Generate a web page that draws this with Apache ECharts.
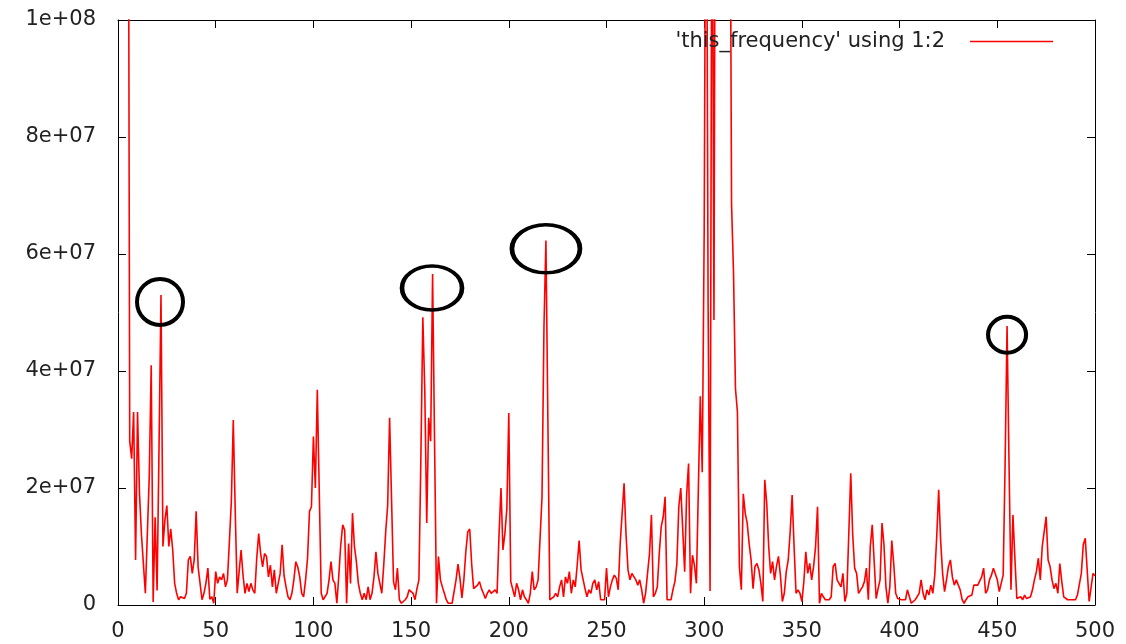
<!DOCTYPE html>
<html>
<head>
<meta charset="utf-8">
<title>this_frequency</title>
<script src="https://cdn.jsdelivr.net/npm/echarts@6/dist/echarts.min.js"></script>
<style>
  html, body { margin: 0; padding: 0; background: #fff; }
  #main { width: 1126px; height: 644px; }
</style>
</head>
<body>
<div id="main"></div>
<script>
// amplitude per frequency bin, in units of 1e6 (bins 1..500)
const firstBin = 1
const amplitude = [
  420, 360, 300, 240, 180, 28, 25, 33, 7.7, 33,
  19, 12, 7, 2, 12, 22, 41, 0.5, 15, 2.5,
  27, 53, 10, 14.5, 17, 10, 13, 9.4, 3.7, 2,
  0.9, 1.4, 1.2, 1.1, 2, 7.7, 8.3, 5.4, 7.7, 16,
  6.5, 3.7, 0.9, 2, 3.7, 6.3, 1, 1.4, 0.3, 5.7,
  3.7, 4.8, 4.3, 5.4, 3.1, 4.3, 10.8, 17.7, 31.6, 16,
  2, 5.7, 9.4, 5, 2, 3.7, 2.3, 3.7, 2.6, 2,
  8, 12.2, 8.8, 6.5, 8.8, 8.3, 4.8, 6.8, 3.1, 6,
  2, 2, 5.4, 10.3, 5, 3.1, 1.4, 0.9, 2, 4.3,
  7.4, 6.5, 4.8, 2, 1.4, 4.3, 8, 16, 16.8, 28.8,
  20, 36.8, 19.4, 2, 0.9, 0.9, 2, 4.3, 7.4, 4.3,
  3.7, 0.3, 5, 10.3, 13.7, 12.8, 0.3, 10.5, 3.7, 15.7,
  10, 7.4, 3.7, 2, 0.9, 2, 0.9, 3.1, 0.9, 2,
  4.8, 9.1, 5.4, 3.7, 2, 6.8, 12.5, 17, 32, 18,
  4, 2.6, 6.3, 0.9, 0.3, 0.3, 0.9, 1.4, 2.6, 2.8,
  2, 0.9, 2.8, 4.3, 25, 49.2, 36.7, 14, 32, 28,
  56.6, 28, 0.3, 8.3, 4.3, 3.1, 2, 0.9, 0.3, 0.6,
  0.3, 0.3, 4.3, 7, 4.6, 1.2, 4.3, 9.1, 12.5, 13,
  7, 2.8, 2.6, 3.4, 4, 2.8, 2, 1.1, 2, 2.6,
  2, 2, 2.6, 2, 12, 20, 9.4, 12.2, 16.5, 32.8,
  4, 4, 1.4, 3.7, 2.6, 0.9, 2.6, 1.4, 0.9, 0.3,
  2, 5.7, 2.6, 3.1, 4.3, 4.6, 18.5, 47.6, 62.3, 31.6,
  0.9, 0.9, 1.4, 2, 1.4, 3.1, 4.3, 1.4, 4.8, 3.7,
  5.7, 2, 4.3, 3.1, 6.8, 11, 6, 5.7, 2.8, 1.4,
  2.6, 2, 3.7, 4.3, 2.6, 4, 0.9, 1.1, 0.9, 6.3,
  1.4, 3.1, 4.3, 5.1, 4.6, 2.6, 10.5, 10.5, 20.8, 12,
  6, 4.3, 5.4, 5.7, 4.3, 3.4, 4.3, 2.6, 0.3, 2,
  2.3, 8.8, 15.4, 1.4, 2, 3.1, 8.8, 13.4, 15, 18.5,
  0.9, 0.6, 0.9, 2.6, 4, 7, 16.8, 20, 13, 5.7,
  18.8, 24.2, 2, 8.5, 6.8, 3.7, 19.7, 35.7, 22.7, 64,
  150, 51.4, 2.4, 140, 48.7, 180, 240, 300, 280, 250,
  220, 190, 150, 68.5, 56.8, 37, 33, 6.6, 2.6, 19,
  15.7, 14, 10.5, 7.7, 2.8, 6.6, 7.1, 6, 3.7, 0.6,
  21.4, 17.4, 10, 5.4, 7.4, 4.3, 6.6, 8.3, 5.1, 0.6,
  2, 5.7, 7.7, 12.5, 18.8, 10, 2, 2.6, 2, 0.6,
  4, 9.1, 5.4, 7.1, 4.3, 6.6, 10, 16.8, 0.3, 2,
  1.4, 0.9, 0.6, 0.9, 1.4, 6.6, 7.1, 4.3, 3.7, 3.1,
  5.4, 0.6, 2, 12.2, 22.5, 12, 6.3, 5.4, 2, 1.7,
  3.1, 4, 6.3, 0.9, 10, 13.7, 7.4, 1.1, 2.8, 4.3,
  14, 10.3, 3.1, 0.3, 3.1, 11, 7, 2, 1.1, 0.9,
  0.9, 1.1, 0.9, 2.6, 1.4, 0.3, 0.3, 0.9, 0.6, 2,
  4.3, 2, 0.9, 2.6, 1.7, 3.4, 2, 5.1, 11.7, 19.7,
  11, 5.4, 2.3, 4.3, 6.6, 7.7, 4.8, 3.4, 4.3, 4.3,
  2.6, 0.9, 0.3, 0.9, 1.4, 1.1, 1.7, 3.4, 3.7, 3.4,
  3.7, 4.8, 6.3, 2, 2.6, 4.3, 5.1, 6.3, 6.3, 4.3,
  2.3, 3.7, 5.1, 24.2, 47.7, 24.2, 2.6, 15.4, 8, 1.1,
  0.9, 1.4, 0.9, 1.7, 1.1, 0.9, 1.4, 2.6, 4.3, 5.7,
  8, 4.3, 10, 10.3, 15.1, 7.7, 6.6, 4.3, 2.8, 3.7,
  2, 7.1, 4, 1.4, 1.1, 0.9, 1.1, 0.9, 1.1, 0.9,
  1.7, 1.7, 5.4, 10.3, 11.4, 6, 0.6, 0.3, 5.4, 5
]
const yTickLabels = ['0', '2e+07', '4e+07', '6e+07', '8e+07', '1e+08']
const seriesName = "'this_frequency' using 1:2"
// peaks circled by hand on the original plot [bin, amplitude, w, h]
const circled = [[21.5, 51.8, 46, 46], [160.7, 54.2, 60, 44], [219, 60.9, 68, 48], [455, 46.2, 38, 36]]

var myChart = echarts.init(document.getElementById('main'))

const font = 'DejaVu Sans'
const axisBase = {
  type: 'value',
  axisLine: { show: true, onZero: false, lineStyle: { color: '#000', width: 1 } },
  axisTick: { show: true, inside: true, length: 8, lineStyle: { color: '#000' } },
  splitLine: { show: false }
}

myChart.setOption({
  animation: false,
  backgroundColor: '#fff',
  grid: { left: 118, right: 31, top: 20, bottom: 39 },
  legend: {
    data: [seriesName],
    right: 68,
    top: 26,
    bottom: 'auto',
    left: 'auto',
    orient: 'horizontal',
    align: 'right',
    icon: 'rect',
    itemWidth: 83,
    itemHeight: 1.6,
    itemStyle: { color: '#ff0000' },
    textStyle: { fontFamily: font, fontSize: 21, color: '#222', padding: [0, 20, 0, 0] }
  },
  xAxis: [
    Object.assign({}, axisBase, {
      min: 0, max: 500, interval: 50, position: 'bottom',
      axisLabel: { fontFamily: font, fontSize: 21, color: '#222', margin: 16 }
    }),
    Object.assign({}, axisBase, {
      min: 0, max: 500, interval: 50, position: 'top',
      axisLabel: { show: false }
    })
  ],
  yAxis: [
    Object.assign({}, axisBase, {
      min: 0, max: 100, interval: 20, position: 'left',
      axisLabel: {
        fontFamily: font, fontSize: 21, color: '#222', margin: 22,
        formatter: v => yTickLabels[Math.round(v / 20)]
      }
    }),
    Object.assign({}, axisBase, {
      min: 0, max: 100, interval: 20, position: 'right',
      axisLabel: { show: false }
    })
  ],
  series: [{
    name: seriesName,
    type: 'line',
    showSymbol: false,
    symbol: 'none',
    clip: true,
    color: '#ff0000',
    lineStyle: { color: '#ff0000', width: 1.6 },
    data: amplitude.map((v, i) => [firstBin + i, v]),
    markPoint: {
      silent: true,
      symbol: 'circle',
      label: { show: false },
      itemStyle: { color: 'transparent', borderColor: '#000', borderWidth: 4 },
      data: circled.map(c => ({ coord: [c[0], c[1]], symbolSize: [c[2], c[3]] }))
    }
  }]
})
</script>
</body>
</html>
